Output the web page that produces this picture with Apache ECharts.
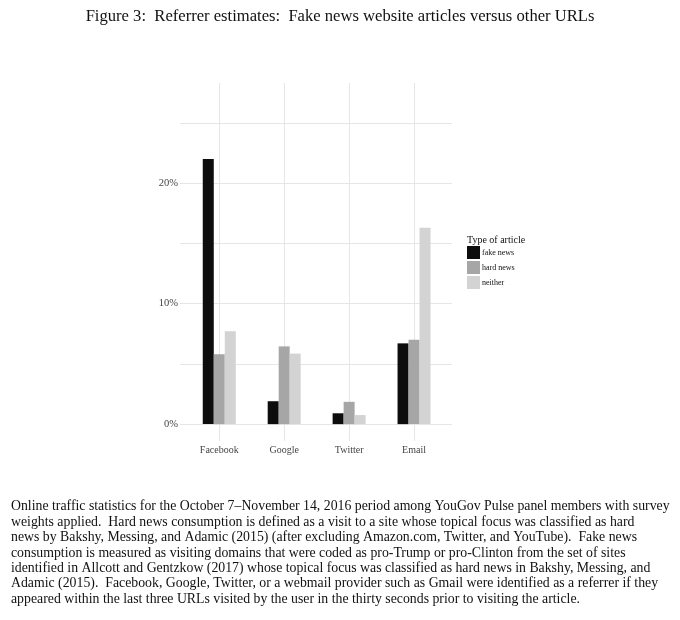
<!DOCTYPE html>
<html>
<head>
<meta charset="utf-8">
<script src="https://cdn.jsdelivr.net/npm/echarts@6/dist/echarts.min.js"></script>
<style>
html,body{margin:0;padding:0;background:#fff;}
#chart{width:680px;height:620px;}
</style>
</head>
<body>
<div id="chart"></div>
<script>
// referrer categories
var referrers = ['Facebook', 'Google', 'Twitter', 'Email'];
// share of visits (%) by type of article
var fakeNews = [22.0, 1.9, 0.9, 6.7];
var hardNews = [5.8, 6.45, 1.85, 7.0];
var neither = [7.7, 5.85, 0.75, 16.3];
var yLabels = [0, 10, 20];
var gridYs = [0, 5, 10, 15, 20, 25];

var captionLines = [
    'Online traffic statistics for the October 7\u2013November 14, 2016 period among YouGov Pulse panel members with survey',
    'weights applied.  Hard news consumption is defined as a visit to a site whose topical focus was classified as hard',
    'news by Bakshy, Messing, and Adamic (2015) (after excluding Amazon.com, Twitter, and YouTube).  Fake news',
    'consumption is measured as visiting domains that were coded as pro-Trump or pro-Clinton from the set of sites',
    'identified in Allcott and Gentzkow (2017) whose topical focus was classified as hard news in Bakshy, Messing, and',
    'Adamic (2015).  Facebook, Google, Twitter, or a webmail provider such as Gmail were identified as a referrer if they',
    'appeared within the last three URLs visited by the user in the thirty seconds prior to visiting the article.'
];

var serif = '"Liberation Serif", "DejaVu Serif", serif';
var gridColor = '#e6e6e6';
var myChart = echarts.init(document.getElementById('chart'));

var hLines = [];
for (var v of gridYs) {
    hLines.push({yAxis: v});
}
var vLines = [];
for (var c of referrers) {
    vLines.push({xAxis: c});
}

var yBase = {
    type: 'value',
    min: -1.4,
    max: 28.3,
    axisLine: {show: false},
    axisTick: {show: false},
    splitLine: {show: false}
};

myChart.setOption({
    backgroundColor: '#fff',
    animation: false,
    title: [{
        text: 'Figure 3:  Referrer estimates:  Fake news website articles versus other URLs',
        left: 'center',
        top: 8,
        padding: 0,
        textStyle: {fontFamily: serif, fontSize: 16.6, fontWeight: 'normal', color: '#111'}
    }, {
        text: 'Type of article',
        left: 467,
        top: 235,
        padding: 0,
        textStyle: {fontFamily: serif, fontSize: 10, fontWeight: 'normal', color: '#111'}
    }, {
        text: captionLines.join('\n'),
        left: 11,
        top: 499,
        padding: 0,
        textStyle: {fontFamily: serif, fontSize: 13.8, fontWeight: 'normal', color: '#111', lineHeight: 15.4}
    }],
    legend: {
        orient: 'vertical',
        left: 467,
        top: 246,
        padding: 0,
        itemWidth: 13,
        itemHeight: 13,
        itemGap: 2,
        icon: 'rect',
        data: ['fake news', 'hard news', 'neither'],
        textStyle: {fontFamily: serif, fontSize: 8, color: '#111', padding: [0, 0, 0, -3]}
    },
    grid: [
        // bars, with the discrete axis expanded by 0.6 of a band each side
        {left: 186.8, right: 233.5, top: 83, bottom: 179},
        // full panel for horizontal grid lines
        {left: 180, right: 228, top: 83, bottom: 179}
    ],
    xAxis: [{
        type: 'category',
        gridIndex: 0,
        data: referrers,
        axisLine: {show: false},
        axisTick: {show: false},
        splitLine: {show: false},
        axisLabel: {fontFamily: serif, fontSize: 10, color: '#444', margin: 4}
    }, {
        type: 'value',
        gridIndex: 1,
        show: false
    }],
    yAxis: [Object.assign({gridIndex: 0, axisLabel: {show: false}}, yBase),
        Object.assign({
            gridIndex: 1,
            axisLabel: {
                customValues: yLabels,
                fontFamily: serif, fontSize: 10.5, color: '#444', margin: 2,
                formatter: '{value}%'
            }
        }, yBase)],
    series: [{
        name: 'hgrid',
        type: 'line',
        xAxisIndex: 1,
        yAxisIndex: 1,
        data: [],
        silent: true,
        z: 0,
        markLine: {
            silent: true,
            z: 0,
            symbol: 'none',
            label: {show: false},
            lineStyle: {color: gridColor, width: 1, type: 'solid'},
            data: hLines
        }
    }, {
        name: 'vgrid',
        type: 'line',
        data: [],
        silent: true,
        z: 0,
        markLine: {
            silent: true,
            z: 0,
            symbol: 'none',
            label: {show: false},
            lineStyle: {color: gridColor, width: 1, type: 'solid'},
            data: vLines
        }
    }, {
        name: 'fake news',
        type: 'bar',
        barWidth: 11,
        barGap: '0%',
        z: 3,
        color: '#0d0d0d',
        data: fakeNews
    }, {
        name: 'hard news',
        type: 'bar',
        barWidth: 11,
        barGap: '0%',
        z: 3,
        color: '#a6a6a6',
        data: hardNews
    }, {
        name: 'neither',
        type: 'bar',
        barWidth: 11,
        barGap: '0%',
        z: 3,
        color: '#d3d3d3',
        data: neither
    }]
});
</script>
</body>
</html>
